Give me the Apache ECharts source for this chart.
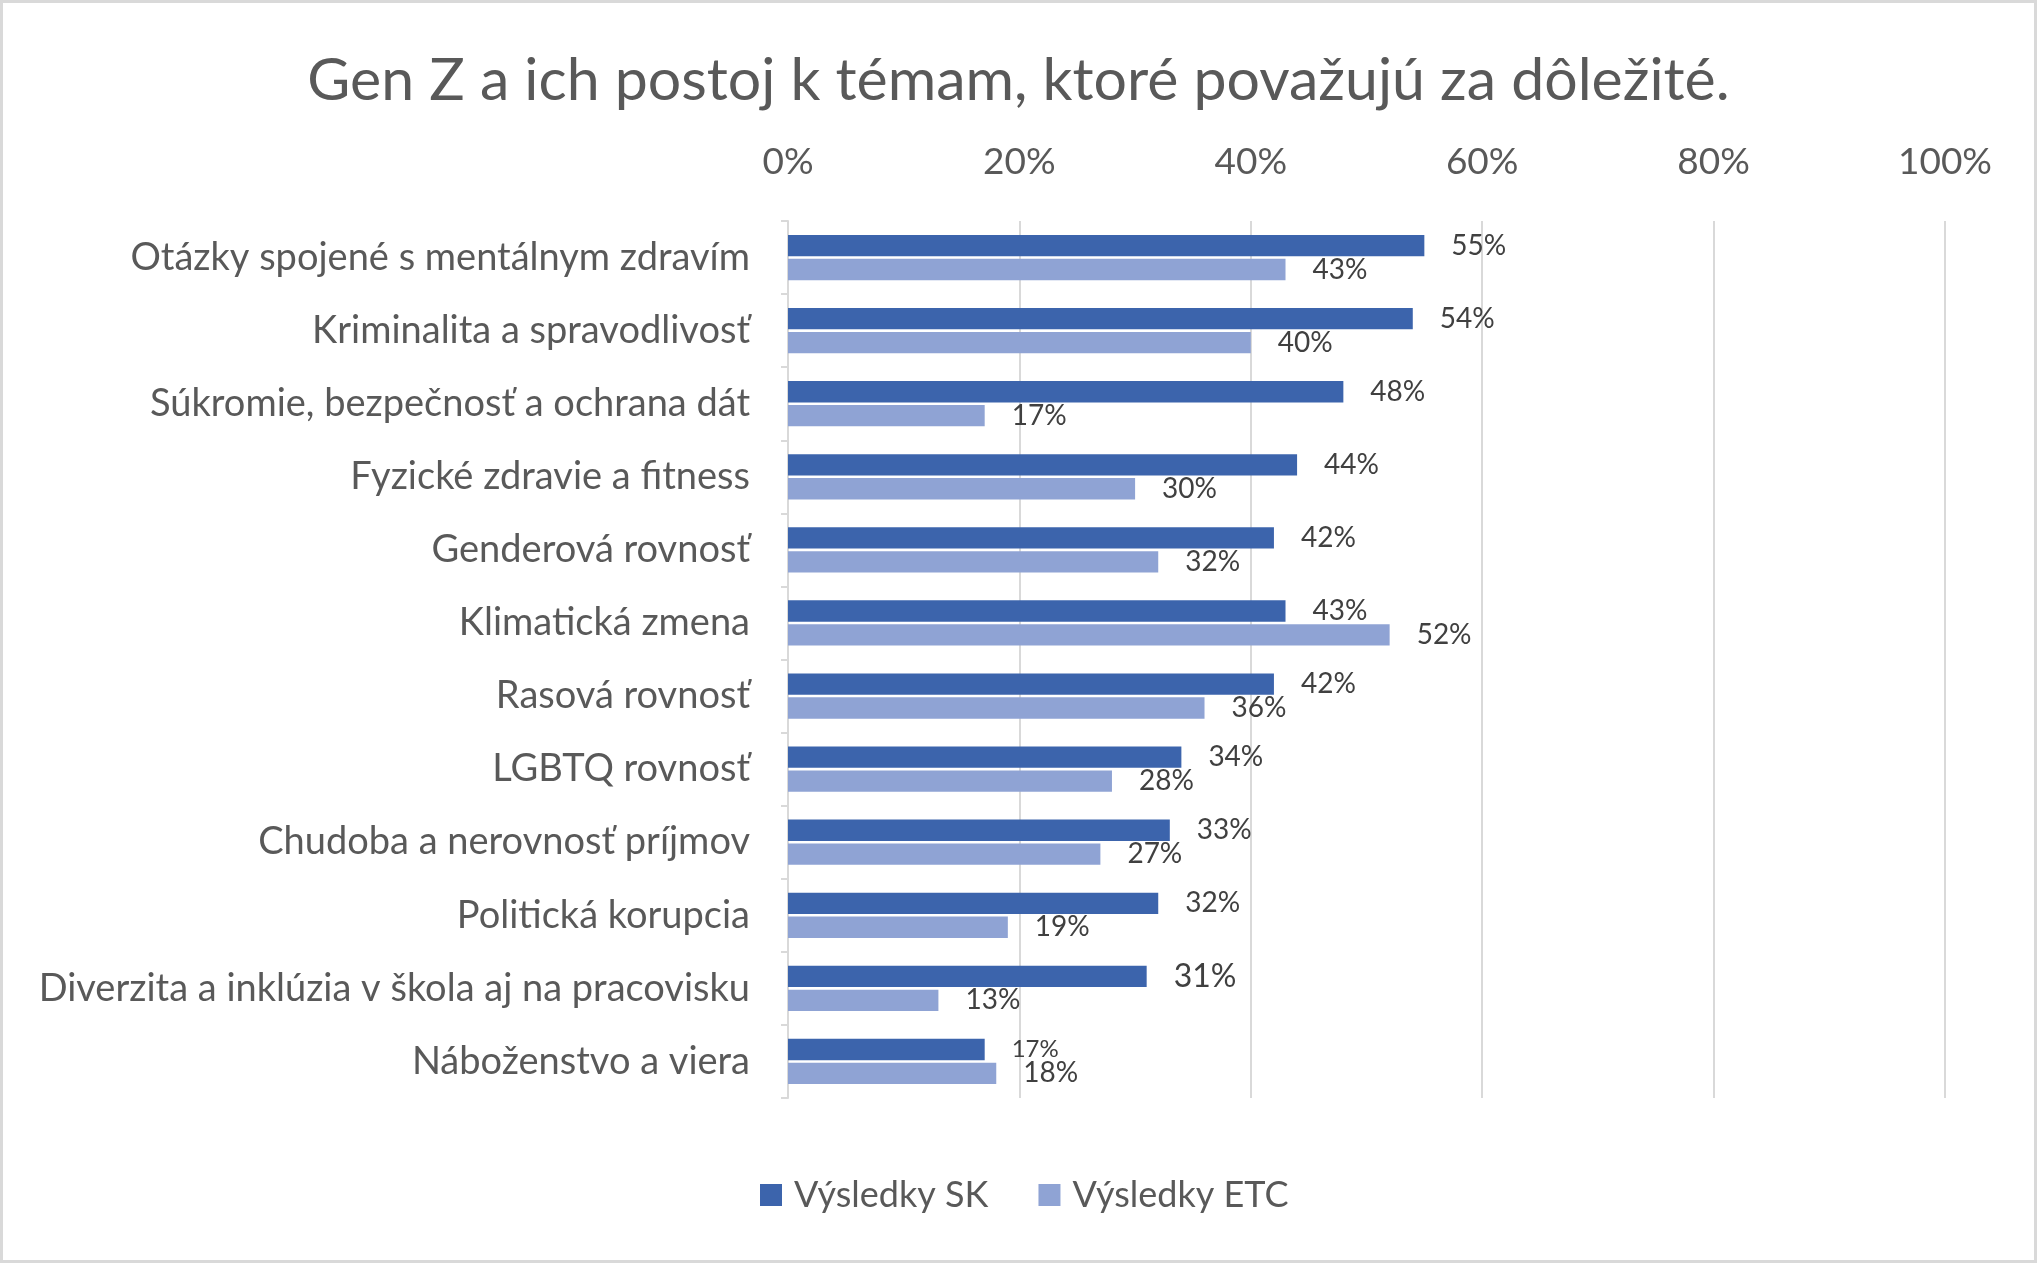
<!DOCTYPE html>
<html>
<head>
<meta charset="utf-8">
<script src="https://cdn.jsdelivr.net/npm/echarts@6/dist/echarts.min.js"></script>
<style>
  html, body { margin: 0; padding: 0; background: #fff; }
  #wrap { position: relative; width: 2037px; height: 1263px; }
  #main { width: 2037px; height: 1263px; }
  #frame { position: absolute; left: 0; top: 0; width: 2037px; height: 1263px; box-sizing: border-box;
           border: 3px solid #d9d9d9; pointer-events: none; }
</style>
</head>
<body>
<div id="wrap"><div id="main"></div><div id="frame"></div></div>
<script>
(function () {
    'use strict';

    var categories = [
        'Otázky spojené s mentálnym zdravím',
        'Kriminalita a spravodlivosť',
        'Súkromie, bezpečnosť a ochrana dát',
        'Fyzické zdravie a fitness',
        'Genderová rovnosť',
        'Klimatická zmena',
        'Rasová rovnosť',
        'LGBTQ rovnosť',
        'Chudoba a nerovnosť príjmov',
        'Politická korupcia',
        'Diverzita a inklúzia v škola aj na pracovisku',
        'Náboženstvo a viera'
    ];
    var seriesNames = ['Výsledky SK', 'Výsledky ETC'];
    var skValues = [55, 54, 48, 44, 42, 43, 42, 34, 33, 32, 31, 17];
    var etcValues = [43, 40, 17, 30, 32, 52, 36, 28, 27, 19, 13, 18];
    var axisTicks = [0, 20, 40, 60, 80, 100];

    var font = 'Lato';
    var gray = '#595959';

    // a couple of labels are drawn at a different size in the original
    var skData = skValues.map(function (v, i) {
        if (i === 10) return { value: v, label: { fontSize: 32 } };
        if (i === 11) return { value: v, label: { fontSize: 24 } };
        return v;
    });

    var myChart = echarts.init(document.getElementById('main'));
    var option = {
        animation: false,
        textStyle: { fontFamily: font },
        title: {
            text: 'Gen Z a ich postoj k témam, ktoré považujú za dôležité.',
            left: 'center',
            top: 51,
            padding: 0,
            textStyle: { fontFamily: font, fontSize: 59, fontWeight: 'normal', color: gray }
        },
        legend: {
            data: seriesNames,
            left: 755,
            top: 1172,
            itemWidth: 22,
            itemHeight: 22,
            itemGap: 50,
            icon: 'rect',
            textStyle: { fontFamily: font, fontSize: 36, color: gray, padding: [0, 0, 0, 7] }
        },
        grid: {
            left: 788,
            right: 92,
            top: 221,
            bottom: 165
        },
        xAxis: {
            type: 'value',
            position: 'top',
            min: axisTicks[0],
            max: axisTicks[axisTicks.length - 1],
            interval: axisTicks[1] - axisTicks[0],
            axisLine: { show: false },
            axisTick: { show: false },
            axisLabel: {
                formatter: '{value}%',
                fontFamily: font,
                fontSize: 37,
                color: gray,
                margin: 40
            },
            splitLine: { lineStyle: { color: '#d9d9d9', width: 2 } }
        },
        yAxis: {
            type: 'category',
            inverse: true,
            data: categories,
            axisLine: { lineStyle: { color: '#d9d9d9', width: 2 } },
            axisTick: { show: true, length: 7, lineStyle: { color: '#d9d9d9', width: 2 } },
            axisLabel: {
                fontFamily: font,
                fontSize: 38,
                color: gray,
                margin: 38
            }
        },
        series: [
            {
                name: seriesNames[0],
                type: 'bar',
                data: skData,
                barGap: '12%',
                barCategoryGap: '38%',
                itemStyle: { color: '#3c64ac' },
                label: {
                    show: true,
                    position: 'right',
                    distance: 27,
                    formatter: '{c}%',
                    fontFamily: font,
                    fontSize: 28,
                    color: '#404040'
                }
            },
            {
                name: seriesNames[1],
                type: 'bar',
                data: etcValues,
                barGap: '12%',
                barCategoryGap: '38%',
                itemStyle: { color: '#8fa3d4' },
                label: {
                    show: true,
                    position: 'right',
                    distance: 27,
                    formatter: '{c}%',
                    fontFamily: font,
                    fontSize: 28,
                    color: '#404040'
                }
            }
        ]
    };
    myChart.setOption(option, true);
}());
</script>
</body>
</html>
